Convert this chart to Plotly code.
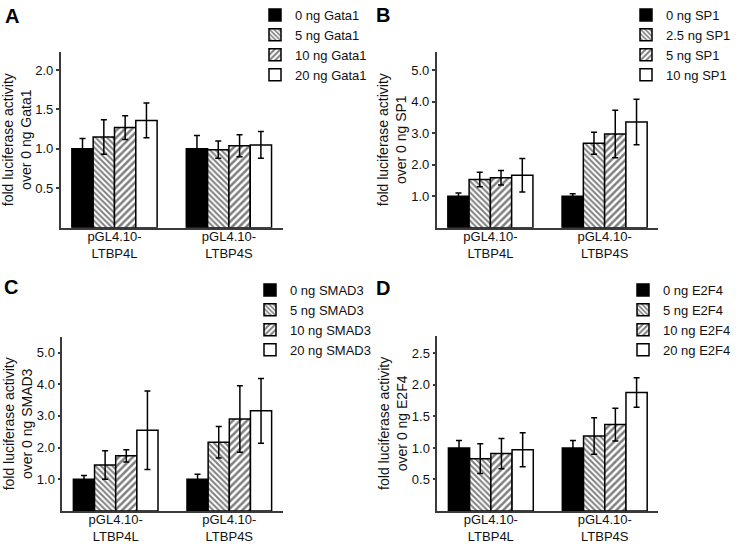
import plotly.graph_objects as go

# ---------------- data ----------------
groups = ["pGL4.10-<br>LTBP4L", "pGL4.10-<br>LTBP4S"]

gata1_labels = ["0 ng Gata1", "5 ng Gata1", "10 ng Gata1", "20 ng Gata1"]
gata1_means = [[1.00, 1.00], [1.15, 0.99], [1.27, 1.04], [1.36, 1.05]]
gata1_errs = [[0.13, 0.17], [0.22, 0.11], [0.15, 0.14], [0.22, 0.17]]

sp1_labels = ["0 ng SP1", "2.5 ng SP1", "5 ng SP1", "10 ng SP1"]
sp1_means = [[1.00, 1.00], [1.53, 2.68], [1.58, 2.97], [1.66, 3.35]]
sp1_errs = [[0.10, 0.08], [0.23, 0.35], [0.23, 0.75], [0.53, 0.72]]

smad3_labels = ["0 ng SMAD3", "5 ng SMAD3", "10 ng SMAD3", "20 ng SMAD3"]
smad3_means = [[1.00, 1.00], [1.45, 2.17], [1.74, 2.90], [2.55, 3.16]]
smad3_errs = [[0.12, 0.16], [0.45, 0.50], [0.19, 1.05], [1.24, 1.02]]

e2f4_labels = ["0 ng E2F4", "5 ng E2F4", "10 ng E2F4", "20 ng E2F4"]
e2f4_means = [[1.00, 1.00], [0.83, 1.19], [0.91, 1.37], [0.97, 1.88]]
e2f4_errs = [[0.12, 0.12], [0.235, 0.29], [0.24, 0.26], [0.27, 0.235]]

ticks_a = [0.5, 1.0, 1.5, 2.0]
ticks_b = [1.0, 2.0, 3.0, 4.0, 5.0]
ticks_c = [1.0, 2.0, 3.0, 4.0, 5.0]
ticks_d = [0.5, 1.0, 1.5, 2.0, 2.5]

# ---------------- styling ----------------
W, H = 739, 544
FONT = "Liberation Sans, Arial, Helvetica, sans-serif"
AXC = "#3a3a3a"

def px_x(p):
    return p / W

def px_y(p):
    return 1 - p / H

fills = [
    dict(color="black", pattern=dict(shape="")),
    dict(color="white", pattern=dict(shape="\\", fgcolor="black", bgcolor="white", size=4, solidity=0.5)),
    dict(color="white", pattern=dict(shape="/", fgcolor="black", bgcolor="white", size=5, solidity=0.5)),
    dict(color="white", pattern=dict(shape="")),
]

panels = [
    dict(labels=gata1_labels, means=gata1_means, errs=gata1_errs, ticks=ticks_a, ymax=2.232,
         xd=[px_x(60.7), px_x(282.7)], yd=[px_y(227.7), px_y(51.7)],
         title="fold luciferase activity<br>over 0 ng Gata1", leg=(255, 0), letter="A",
         lpos=(3, 16.5)),
    dict(labels=sp1_labels, means=sp1_means, errs=sp1_errs, ticks=ticks_b, ymax=5.58,
         xd=[px_x(436.7), px_x(658.3)], yd=[px_y(227.7), px_y(51.7)],
         title="fold luciferase activity<br>over 0 ng SP1", leg=(626, 0), letter="B",
         lpos=(374, 15.5)),
    dict(labels=smad3_labels, means=smad3_means, errs=smad3_errs, ticks=ticks_c, ymax=5.5,
         xd=[px_x(62.3), px_x(282.7)], yd=[px_y(511), px_y(336.7)],
         title="fold luciferase activity<br>over 0 ng SMAD3", leg=(250, 275), letter="C",
         lpos=(2, 287)),
    dict(labels=e2f4_labels, means=e2f4_means, errs=e2f4_errs, ticks=ticks_d, ymax=2.78,
         xd=[px_x(437.3), px_x(658.3)], yd=[px_y(511), px_y(335.7)],
         title="fold luciferase activity<br>over 0 ng E2F4", leg=(623, 275), letter="D",
         lpos=(374, 287.5)),
]

fig = go.Figure()
layout = dict(
    width=W, height=H,
    margin=dict(l=0, r=0, t=0, b=0, autoexpand=False),
    paper_bgcolor="white", plot_bgcolor="white",
    font=dict(family=FONT, size=13, color="#111"),
    barmode="group", bargap=0.255, bargroupgap=0,
    annotations=[],
)

for i, p in enumerate(panels):
    n = "" if i == 0 else str(i + 1)
    xa, ya = "x" + n, "y" + n
    legname = "legend" + n
    for j in range(4):
        fig.add_trace(go.Bar(
            x=groups, y=p["means"][j], name=p["labels"][j],
            xaxis=xa, yaxis=ya, legend=legname,
            marker=dict(line=dict(color="black", width=1.5), **fills[j]),
            error_y=dict(type="data", array=p["errs"][j], visible=True,
                         color="black", thickness=1.5, width=3),
            offsetgroup=str(j),
        ))
    layout["xaxis" + n] = dict(
        domain=p["xd"], anchor=ya, type="category", range=[-0.47, 1.47],
        showline=True, linecolor=AXC, linewidth=1.5, ticks="", showgrid=False,
        zeroline=False, tickfont=dict(size=13, color="#111"), ticklabelstandoff=-4,
        automargin=False,
    )
    layout["yaxis" + n] = dict(
        domain=p["yd"], anchor=xa, range=[0, p["ymax"]],
        tickvals=p["ticks"], tickformat=".1f",
        showline=True, linecolor=AXC, linewidth=1.5, ticks="outside", ticklen=3,
        tickwidth=1.5, tickcolor=AXC, showgrid=False, zeroline=False,
        tickfont=dict(size=13, color="#111"), automargin=False,
        title=dict(text=p["title"], font=dict(size=14, color="#111"), standoff=1),
    )
    layout[legname] = dict(
        x=px_x(p["leg"][0]), y=px_y(p["leg"][1]), xanchor="left", yanchor="top",
        bgcolor="rgba(0,0,0,0)", borderwidth=0, tracegroupgap=0,
        font=dict(size=13, color="#111"), traceorder="normal",
    )
    layout["annotations"].append(dict(
        text="<b>" + p["letter"] + "</b>", x=px_x(p["lpos"][0]), y=px_y(p["lpos"][1]),
        xref="paper", yref="paper", xanchor="left", yanchor="middle",
        showarrow=False, font=dict(size=20, color="black"),
    ))

fig.update_layout(**layout)
# remove the browser's default 8px body margin so the figure fills the window exactly
fig.write_html("out.html", config={"displayModeBar": False},
               post_script="document.body.style.margin='0';")
